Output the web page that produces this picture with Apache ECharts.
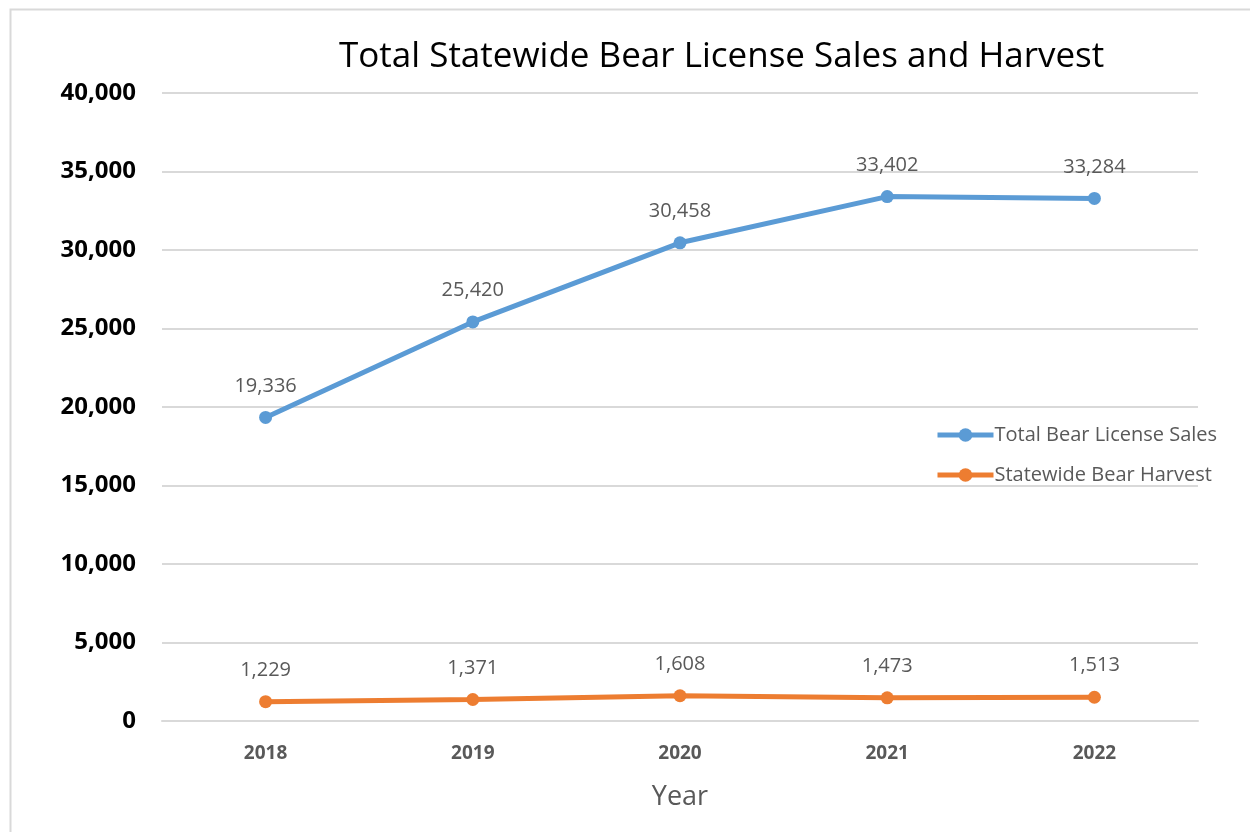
<!DOCTYPE html>
<html>
<head>
<meta charset="utf-8">
<script src="https://cdn.jsdelivr.net/npm/echarts@6/dist/echarts.min.js"></script>
<style>
html,body{margin:0;padding:0;background:#fff;}
#c{width:1250px;height:832px;}
</style>
</head>
<body>
<div id="c"></div>
<script>
const categories = ['2018', '2019', '2020', '2021', '2022'];
const licenseSales = [19336, 25420, 30458, 33402, 33284];
const bearHarvest = [1229, 1371, 1608, 1473, 1513];
const seriesNames = ['Total Bear License Sales', 'Statewide Bear Harvest'];
const titleText = 'Total Statewide Bear License Sales and Harvest';

const FONT = '"Open Sans", "Noto Sans", sans-serif';
const fmt = v => Number(v).toLocaleString('en-US');

const chart = echarts.init(document.getElementById('c'));
chart.setOption({
  animation: false,
  backgroundColor: '#fff',
  textStyle: { fontFamily: FONT },
  graphic: [{
    type: 'rect', left: 8, top: 7, silent: true,
    shape: { width: 1250, height: 840 },
    style: { fill: 'none', stroke: '#d9d9d9', lineWidth: 2 }
  }],
  title: {
    text: titleText, left: 334, top: 35,
    textStyle: { fontFamily: FONT, fontSize: 35, fontWeight: 'normal', color: '#000' }
  },
  legend: {
    orient: 'vertical', left: 930, top: 420, itemGap: 20,
    itemWidth: 56, itemHeight: 17,
    lineStyle: { width: 5 },
    textStyle: { fontFamily: FONT, fontSize: 20, color: '#595959', padding: [0,0,0,-4] },
    data: seriesNames
  },
  grid: { left: 162, right: 52, top: 93, bottom: 111 },
  xAxis: {
    type: 'category', data: categories, boundaryGap: true,
    name: 'Year', nameLocation: 'middle', nameGap: 63,
    nameTextStyle: { fontFamily: FONT, fontSize: 27, color: '#595959' },
    axisLine: { show: true, lineStyle: { color: '#d9d9d9', width: 2 } },
    axisTick: { show: false },
    axisLabel: { fontFamily: FONT, fontSize: 19, fontWeight: 'bold', color: '#595959', margin: 23 }
  },
  yAxis: {
    type: 'value', min: 0, max: 40000, interval: 5000,
    axisLine: { show: false }, axisTick: { show: false },
    splitLine: { lineStyle: { color: '#d9d9d9', width: 2 } },
    axisLabel: { fontFamily: FONT, fontSize: 24, fontWeight: 'bold', color: '#000', margin: 26, formatter: fmt }
  },
  series: [
    {
      name: seriesNames[0], type: 'line', data: licenseSales,
      symbol: 'circle', symbolSize: 13,
      lineStyle: { color: '#5B9BD5', width: 5 },
      itemStyle: { color: '#5B9BD5' },
      label: { show: true, position: 'top', distance: 15, fontFamily: FONT, fontSize: 20, color: '#595959', formatter: p => fmt(p.value) }
    },
    {
      name: seriesNames[1], type: 'line', data: bearHarvest,
      symbol: 'circle', symbolSize: 13,
      lineStyle: { color: '#ED7D31', width: 5 },
      itemStyle: { color: '#ED7D31' },
      label: { show: true, position: 'top', distance: 15, fontFamily: FONT, fontSize: 20, color: '#595959', formatter: p => fmt(p.value) }
    }
  ]
});
</script>
</body>
</html>
